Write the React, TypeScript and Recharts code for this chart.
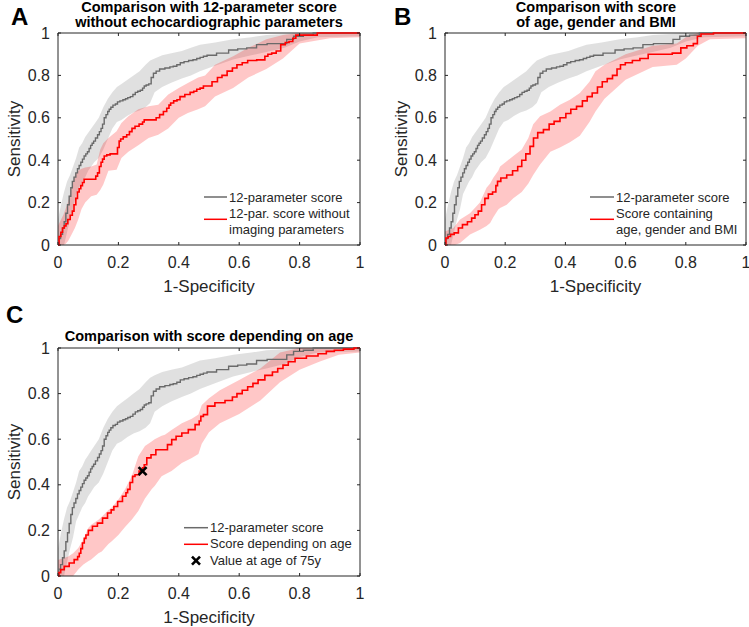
import React from "react";
import { ComposedChart, Line, Area, Scatter, XAxis, YAxis, Legend, Label, ReferenceArea } from "recharts";

type Pt = [number, number];
type Band = [number, number, number];

const ticks = [0, 0.2, 0.4, 0.6, 0.8, 1];

// [1-specificity, sensitivity]
const gray12Param: Pt[] = [
  [0, 0], [0.005, 0.03], [0.012, 0.05], [0.018, 0.08], [0.023, 0.11], [0.029, 0.15], [0.034, 0.19],
  [0.04, 0.23], [0.045, 0.27], [0.05, 0.3], [0.056, 0.32], [0.062, 0.34], [0.067, 0.36], [0.073, 0.375],
  [0.078, 0.39], [0.084, 0.405], [0.089, 0.42], [0.095, 0.43], [0.1, 0.44], [0.106, 0.455], [0.11, 0.47],
  [0.116, 0.48], [0.12, 0.49], [0.128, 0.505], [0.134, 0.52], [0.14, 0.535], [0.145, 0.55], [0.15, 0.57],
  [0.156, 0.6], [0.162, 0.615], [0.167, 0.63], [0.172, 0.64], [0.178, 0.65], [0.186, 0.66], [0.194, 0.665],
  [0.2, 0.675], [0.21, 0.68], [0.22, 0.685], [0.227, 0.69], [0.235, 0.695], [0.244, 0.7], [0.252, 0.71],
  [0.26, 0.72], [0.268, 0.725], [0.277, 0.73], [0.283, 0.74], [0.288, 0.75], [0.296, 0.755], [0.305, 0.76],
  [0.312, 0.79], [0.32, 0.81], [0.33, 0.82], [0.343, 0.83], [0.365, 0.835], [0.376, 0.84], [0.387, 0.843],
  [0.4, 0.85], [0.41, 0.86], [0.425, 0.865], [0.44, 0.87], [0.454, 0.874], [0.465, 0.88], [0.476, 0.885],
  [0.487, 0.89], [0.5, 0.895], [0.55, 0.905], [0.58, 0.92], [0.61, 0.925], [0.64, 0.93], [0.675, 0.945],
  [0.71, 0.95], [0.745, 0.95], [0.77, 0.97], [0.79, 0.985], [0.835, 0.99], [0.855, 1], [1, 1],
];

// [1-specificity, lower, upper]
const gray12ParamBand: Band[] = [
  [0, 0, 0.12], [0.01, 0, 0.19], [0.02, 0, 0.25], [0.03, 0.06, 0.3], [0.04, 0.12, 0.33], [0.05, 0.17, 0.37],
  [0.06, 0.24, 0.41], [0.07, 0.27, 0.46], [0.08, 0.3, 0.48], [0.09, 0.32, 0.51], [0.1, 0.35, 0.53],
  [0.11, 0.37, 0.55], [0.12, 0.39, 0.57], [0.135, 0.41, 0.6], [0.15, 0.45, 0.65], [0.165, 0.5, 0.69],
  [0.18, 0.55, 0.72], [0.195, 0.58, 0.745], [0.21, 0.59, 0.76], [0.23, 0.61, 0.78], [0.25, 0.625, 0.8],
  [0.27, 0.635, 0.82], [0.29, 0.65, 0.85], [0.305, 0.67, 0.87], [0.32, 0.72, 0.88], [0.345, 0.745, 0.895],
  [0.375, 0.765, 0.905], [0.41, 0.785, 0.915], [0.44, 0.8, 0.93], [0.47, 0.82, 0.945], [0.52, 0.845, 0.955],
  [0.58, 0.875, 0.97], [0.64, 0.895, 0.98], [0.69, 0.91, 0.99], [0.75, 0.93, 0.995], [0.8, 0.96, 1],
  [0.86, 0.98, 1], [1, 0.985, 1],
];

const redNoImaging: Pt[] = [
  [0, 0], [0.007, 0.04], [0.012, 0.06], [0.018, 0.08], [0.024, 0.09], [0.029, 0.1], [0.036, 0.12],
  [0.045, 0.14], [0.05, 0.16], [0.056, 0.19], [0.062, 0.22], [0.067, 0.25], [0.073, 0.265], [0.078, 0.28],
  [0.084, 0.295], [0.089, 0.31], [0.1, 0.31], [0.122, 0.31], [0.128, 0.325], [0.134, 0.34], [0.14, 0.37],
  [0.145, 0.39], [0.15, 0.405], [0.156, 0.42], [0.167, 0.425], [0.178, 0.43], [0.194, 0.43], [0.2, 0.46],
  [0.205, 0.49], [0.21, 0.5], [0.222, 0.51], [0.233, 0.52], [0.24, 0.535], [0.25, 0.55], [0.26, 0.56],
  [0.277, 0.57], [0.283, 0.58], [0.288, 0.59], [0.32, 0.59], [0.33, 0.6], [0.343, 0.615], [0.355, 0.63],
  [0.365, 0.645], [0.37, 0.66], [0.376, 0.67], [0.39, 0.68], [0.398, 0.685], [0.41, 0.7], [0.43, 0.71],
  [0.445, 0.72], [0.454, 0.725], [0.465, 0.735], [0.476, 0.74], [0.487, 0.75], [0.5, 0.75], [0.52, 0.77],
  [0.536, 0.79], [0.55, 0.8], [0.57, 0.82], [0.585, 0.835], [0.6, 0.85], [0.62, 0.86], [0.636, 0.87],
  [0.68, 0.873], [0.69, 0.89], [0.7, 0.9], [0.715, 0.905], [0.73, 0.915], [0.745, 0.945], [0.76, 0.955],
  [0.77, 0.96], [0.785, 0.975], [0.79, 0.99], [0.857, 0.99], [0.86, 1], [1, 1],
];

const redNoImagingBand: Band[] = [
  [0, 0, 0.09], [0.01, 0, 0.12], [0.018, 0, 0.143], [0.025, 0.005, 0.17], [0.034, 0.02, 0.206],
  [0.045, 0.05, 0.27], [0.056, 0.08, 0.33], [0.067, 0.12, 0.35], [0.078, 0.17, 0.36], [0.09, 0.2, 0.365],
  [0.11, 0.23, 0.37], [0.128, 0.237, 0.38], [0.14, 0.26, 0.45], [0.15, 0.285, 0.48], [0.167, 0.35, 0.505],
  [0.194, 0.355, 0.536], [0.21, 0.41, 0.575], [0.233, 0.44, 0.607], [0.266, 0.47, 0.64], [0.3, 0.505, 0.654],
  [0.332, 0.52, 0.662], [0.365, 0.55, 0.71], [0.4, 0.6, 0.74], [0.43, 0.623, 0.764], [0.464, 0.64, 0.79],
  [0.487, 0.654, 0.8], [0.52, 0.7, 0.85], [0.58, 0.74, 0.89], [0.63, 0.79, 0.93], [0.69, 0.83, 0.97],
  [0.745, 0.88, 0.99], [0.8, 0.95, 1], [0.9, 0.975, 1], [1, 0.98, 1],
];

const redAgeGenderBmi: Pt[] = [
  [0, 0], [0.006, 0.033], [0.015, 0.04], [0.022, 0.05], [0.039, 0.057], [0.05, 0.08], [0.066, 0.096],
  [0.083, 0.11], [0.094, 0.127], [0.105, 0.143], [0.116, 0.16], [0.127, 0.19], [0.138, 0.22], [0.15, 0.24],
  [0.166, 0.25], [0.172, 0.28], [0.177, 0.3], [0.194, 0.316], [0.216, 0.33], [0.233, 0.35], [0.25, 0.37],
  [0.26, 0.4], [0.277, 0.43], [0.288, 0.465], [0.3, 0.505], [0.316, 0.53], [0.338, 0.544], [0.354, 0.57],
  [0.371, 0.583], [0.393, 0.6], [0.41, 0.62], [0.426, 0.64], [0.448, 0.654], [0.465, 0.68], [0.48, 0.7],
  [0.498, 0.717], [0.515, 0.745], [0.53, 0.77], [0.548, 0.785], [0.565, 0.8], [0.578, 0.83], [0.588, 0.85],
  [0.61, 0.86], [0.635, 0.87], [0.66, 0.88], [0.69, 0.9], [0.73, 0.9], [0.78, 0.905], [0.787, 0.93],
  [0.82, 0.94], [0.83, 0.95], [0.847, 0.985], [0.854, 0.995], [0.93, 1], [1, 1],
];

const redAgeGenderBmiBand: Band[] = [
  [0, 0, 0.064], [0.028, 0, 0.08], [0.033, 0, 0.09], [0.05, 0.01, 0.12], [0.083, 0.05, 0.15],
  [0.116, 0.072, 0.2], [0.138, 0.09, 0.27], [0.15, 0.104, 0.29], [0.16, 0.13, 0.316], [0.177, 0.167, 0.35],
  [0.183, 0.175, 0.37], [0.205, 0.19, 0.395], [0.227, 0.22, 0.42], [0.255, 0.25, 0.45], [0.277, 0.29, 0.505],
  [0.293, 0.33, 0.57], [0.316, 0.38, 0.607], [0.35, 0.44, 0.63], [0.382, 0.46, 0.662], [0.415, 0.485, 0.685],
  [0.448, 0.515, 0.717], [0.48, 0.58, 0.77], [0.5, 0.63, 0.82], [0.53, 0.69, 0.85], [0.6, 0.78, 0.9],
  [0.69, 0.84, 0.94], [0.77, 0.85, 0.95], [0.8, 0.88, 0.98], [0.84, 0.94, 1], [0.88, 0.97, 1], [1, 0.975, 1],
];

const redAge: Pt[] = [
  [0, 0], [0.006, 0.015], [0.012, 0.028], [0.029, 0.042], [0.045, 0.057], [0.062, 0.072], [0.068, 0.085],
  [0.073, 0.1], [0.078, 0.12], [0.084, 0.145], [0.09, 0.165], [0.095, 0.18], [0.106, 0.2], [0.122, 0.218],
  [0.139, 0.232], [0.156, 0.254], [0.172, 0.276], [0.18, 0.29], [0.19, 0.305], [0.205, 0.327], [0.222, 0.35],
  [0.228, 0.365], [0.233, 0.38], [0.244, 0.41], [0.25, 0.437], [0.26, 0.444], [0.277, 0.46], [0.283, 0.475],
  [0.288, 0.488], [0.3, 0.518], [0.316, 0.532], [0.332, 0.554], [0.354, 0.554], [0.371, 0.576],
  [0.382, 0.598], [0.4, 0.613], [0.42, 0.627], [0.443, 0.642], [0.465, 0.664], [0.47, 0.68], [0.476, 0.7],
  [0.487, 0.708], [0.503, 0.745], [0.536, 0.76], [0.57, 0.77], [0.585, 0.785], [0.6, 0.8], [0.62, 0.815],
  [0.636, 0.83], [0.655, 0.845], [0.67, 0.86], [0.7, 0.88], [0.72, 0.895], [0.735, 0.91], [0.755, 0.925],
  [0.77, 0.94], [0.8, 0.955], [0.845, 0.965], [0.877, 0.975], [0.9, 0.985], [0.93, 0.99], [0.96, 0.995],
  [1, 1],
];

const redAgeBand: Band[] = [
  [0, 0, 0.07], [0.034, 0, 0.086], [0.05, 0, 0.1], [0.067, 0.028, 0.123], [0.084, 0.05, 0.16],
  [0.1, 0.065, 0.21], [0.11, 0.072, 0.225], [0.134, 0.1, 0.247], [0.145, 0.108, 0.26], [0.167, 0.14, 0.29],
  [0.178, 0.152, 0.3], [0.2, 0.18, 0.335], [0.222, 0.215, 0.38], [0.244, 0.247, 0.437], [0.266, 0.285, 0.525],
  [0.288, 0.34, 0.57], [0.31, 0.38, 0.59], [0.32, 0.395, 0.6], [0.343, 0.437, 0.615], [0.354, 0.445, 0.62],
  [0.376, 0.46, 0.64], [0.41, 0.496, 0.67], [0.443, 0.518, 0.69], [0.465, 0.535, 0.708], [0.476, 0.58, 0.75],
  [0.5, 0.63, 0.78], [0.536, 0.67, 0.815], [0.6, 0.71, 0.86], [0.67, 0.77, 0.91], [0.735, 0.85, 0.98],
  [0.8, 0.905, 1], [0.865, 0.94, 1], [0.93, 0.97, 1], [1, 0.98, 1],
];

const age75Point: Pt[] = [[0.28, 0.46]];

const FONT = '"Liberation Sans", Arial, Helvetica, sans-serif';
const AXIS = "#262626";
const GRAY = "#6a6a6a";
const RED = "#ff0000";

const toLine = (pts: Pt[]) => pts.map(([x, y]) => ({ x, y }));
const toBand = (b: Band[]) => b.map(([x, lo, hi]) => ({ x, range: [lo, hi] }));

function Cross(props: any) {
  const { cx, cy } = props;
  return (
    <g stroke="#000" strokeWidth={2.6}>
      <line x1={cx - 4} y1={cy - 4} x2={cx + 4} y2={cy + 4} />
      <line x1={cx - 4} y1={cy + 4} x2={cx + 4} y2={cy - 4} />
    </g>
  );
}

// tick label plus MATLAB-style inward tick marks on both opposite edges
function makeXTick(plotH: number) {
  return (props: any) => {
    const { x, y, payload } = props;
    const axisY = y - 12;
    return (
      <g>
        <line x1={x} x2={x} y1={axisY} y2={axisY - 3} stroke={AXIS} />
        <line x1={x} x2={x} y1={axisY - plotH} y2={axisY - plotH + 3} stroke={AXIS} />
        <text x={x} y={y} dy="0.71em" textAnchor="middle" fontSize={16} fill={AXIS} fontFamily={FONT}>
          {payload.value}
        </text>
      </g>
    );
  };
}

function makeYTick(plotW: number) {
  return (props: any) => {
    const { x, y, payload } = props;
    const axisX = x + 8;
    return (
      <g>
        <line x1={axisX} x2={axisX + 3} y1={y} y2={y} stroke={AXIS} />
        <line x1={axisX + plotW} x2={axisX + plotW - 3} y1={y} y2={y} stroke={AXIS} />
        <text x={x} y={y} dy="0.355em" textAnchor="end" fontSize={16} fill={AXIS} fontFamily={FONT}>
          {payload.value}
        </text>
      </g>
    );
  };
}

interface LegendRow {
  kind: "gray" | "red" | "cross";
  y: number;
  lines: string[];
  baseline: number;
}

function makeLegend(rows: LegendRow[], lineLen: number, textX: number) {
  return () => (
    <svg width={175} height={52} style={{ overflow: "visible", display: "block" }}>
      {rows.map((r, i) => (
        <g key={i}>
          {r.kind === "cross" ? (
            <Cross cx={lineLen / 2} cy={r.y} />
          ) : (
            <line x1={0} x2={lineLen} y1={r.y} y2={r.y} stroke={r.kind === "gray" ? GRAY : RED} strokeWidth={1.5} />
          )}
          {r.lines.map((t, j) => (
            <text key={j} x={textX} y={r.baseline + j * 16} fontSize={13} fill={AXIS} fontFamily={FONT}>
              {t}
            </text>
          ))}
        </g>
      ))}
    </svg>
  );
}

interface PanelProps {
  left: number;
  top: number;
  width: number;
  height: number;
  margin: { top: number; right: number; bottom: number; left: number };
  red: Pt[];
  redBand: Band[];
  marker?: Pt[];
  legend: () => React.ReactElement;
  legendPos: { left: number; top: number };
}

function RocPanel(p: PanelProps) {
  const plotW = p.width - p.margin.left - p.margin.right - 50;
  const plotH = p.height - p.margin.top - p.margin.bottom - 50;
  return (
    <div style={{ position: "absolute", left: p.left, top: p.top }}>
      <ComposedChart width={p.width} height={p.height} margin={p.margin} style={{ fontFamily: FONT }}>
        <XAxis
          type="number"
          dataKey="x"
          domain={[0, 1]}
          ticks={ticks}
          interval={0}
          height={50}
          tickLine={false}
          tickSize={6}
          tickMargin={6}
          axisLine={false}
          tick={makeXTick(plotH)}
        >
          <Label value="1-Specificity" position="insideBottom" offset={3} style={{ fontSize: 17, fill: AXIS }} />
        </XAxis>
        <YAxis
          type="number"
          dataKey="y"
          domain={[0, 1]}
          ticks={ticks}
          interval={0}
          width={50}
          tickLine={false}
          tickSize={6}
          tickMargin={2}
          axisLine={false}
          tick={makeYTick(plotW)}
        >
          <Label value="Sensitivity" angle={-90} position="insideLeft" offset={6}
            style={{ fontSize: 17, fill: AXIS, textAnchor: "middle" }} />
        </YAxis>

        <Area data={toBand(gray12ParamBand)} dataKey="range" type="linear" stroke="none" fill="#000000"
          fillOpacity={0.12} isAnimationActive={false} />
        <Area data={toBand(p.redBand)} dataKey="range" type="linear" stroke="none" fill={RED}
          fillOpacity={0.22} isAnimationActive={false} />
        <Line data={toLine(gray12Param)} dataKey="y" type="step" stroke={GRAY} strokeWidth={1.4} dot={false}
          activeDot={false} isAnimationActive={false} />
        <Line data={toLine(p.red)} dataKey="y" type="step" stroke={RED} strokeWidth={1.6} dot={false}
          activeDot={false} isAnimationActive={false} />
        {p.marker && (
          <Scatter data={toLine(p.marker)} dataKey="y" shape={Cross} isAnimationActive={false} />
        )}
        <ReferenceArea x1={0} x2={1} y1={0} y2={1} fill="none" fillOpacity={0} stroke={AXIS} strokeWidth={1}
          ifOverflow="visible" />
        <Legend
          layout="vertical"
          align="center"
          verticalAlign="middle"
          content={p.legend}
          wrapperStyle={{ left: p.legendPos.left, top: p.legendPos.top, width: "auto", height: "auto" }}
        />
      </ComposedChart>
    </div>
  );
}

const legendA = makeLegend(
  [
    { kind: "gray", y: 10, lines: ["12-parameter score"], baseline: 14.7 },
    { kind: "red", y: 32.3, lines: ["12-par. score without", "imaging parameters"], baseline: 31.3 },
  ],
  23,
  25
);

const legendB = makeLegend(
  [
    { kind: "gray", y: 10, lines: ["12-parameter score"], baseline: 14.7 },
    { kind: "red", y: 32.3, lines: ["Score containing", "age, gender and BMI"], baseline: 31.3 },
  ],
  24,
  26
);

const legendC = makeLegend(
  [
    { kind: "gray", y: 10.7, lines: ["12-parameter score"], baseline: 14.7 },
    { kind: "red", y: 27.3, lines: ["Score depending on age"], baseline: 31.3 },
    { kind: "cross", y: 43.7, lines: ["Value at age of 75y"], baseline: 48 },
  ],
  24,
  26
);

export default function App() {
  const titleStyle = { fontFamily: FONT, fontWeight: 700, fill: "#000" } as const;
  return (
    <div style={{ position: "absolute", left: 0, top: 0, width: 749, height: 627, background: "#fff", overflow: "hidden" }}>
      <RocPanel
        left={0}
        top={0}
        width={375}
        height={300}
        margin={{ top: 33, right: 15, bottom: 5, left: 8 }}
        red={redNoImaging}
        redBand={redNoImagingBand}
        legend={legendA}
        legendPos={{ left: 204, top: 187 }}
      />
      <RocPanel
        left={375}
        top={0}
        width={374}
        height={300}
        margin={{ top: 33, right: 3, bottom: 5, left: 20 }}
        red={redAgeGenderBmi}
        redBand={redAgeGenderBmiBand}
        legend={legendB}
        legendPos={{ left: 215, top: 187 }}
      />
      <RocPanel
        left={0}
        top={300}
        width={375}
        height={327}
        margin={{ top: 48, right: 15, bottom: 1, left: 8 }}
        red={redAge}
        redBand={redAgeBand}
        marker={age75Point}
        legend={legendC}
        legendPos={{ left: 184, top: 217 }}
      />
      <svg width={749} height={627} style={{ position: "absolute", left: 0, top: 0, pointerEvents: "none" }}>
        <text x={11} y={25} fontSize={24} {...titleStyle}>A</text>
        <text x={394} y={25} fontSize={24} {...titleStyle}>B</text>
        <text x={6} y={323} fontSize={24} {...titleStyle}>C</text>
        <g textAnchor="middle" fontSize={14.5} {...titleStyle}>
          <text x={209} y={11.7}>Comparison with 12-parameter score</text>
          <text x={209} y={27.3}>without echocardiographic parameters</text>
          <text x={596} y={11.7}>Comparison with score</text>
          <text x={596} y={27.3}>of age, gender and BMI</text>
          <text x={209} y={340.7}>Comparison with score depending on age</text>
        </g>
      </svg>
    </div>
  );
}
